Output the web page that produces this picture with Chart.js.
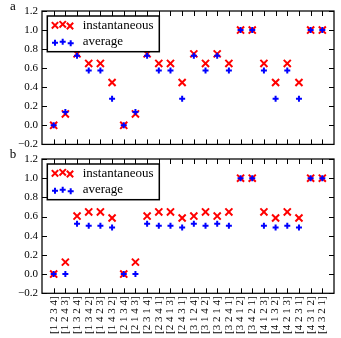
<!DOCTYPE html>
<html>
<head>
<meta charset="utf-8">
<script src="https://cdn.jsdelivr.net/npm/chart.js@4/dist/chart.umd.min.js"></script>
<style>
  body { margin: 0; background: #fff; }
  #wrap { position: relative; width: 341px; height: 338px; }
  canvas { position: absolute; left: 0; }
</style>
</head>
<body>
<div id="wrap">
  <canvas id="ca" width="341" height="155" style="top:0"></canvas>
  <canvas id="cb" width="341" height="192" style="top:146px"></canvas>
</div>
<script>
const categories = [
  '[1 2 3 4]', '[1 2 4 3]', '[1 3 2 4]', '[1 3 4 2]', '[1 4 2 3]', '[1 4 3 2]',
  '[2 1 3 4]', '[2 1 4 3]', '[2 3 1 4]', '[2 3 4 1]', '[2 4 1 3]', '[2 4 3 1]',
  '[3 1 2 4]', '[3 1 4 2]', '[3 2 1 4]', '[3 2 4 1]', '[3 4 1 2]', '[3 4 2 1]',
  '[4 1 2 3]', '[4 1 3 2]', '[4 2 1 3]', '[4 2 3 1]', '[4 3 1 2]', '[4 3 2 1]'
];
const yTicks = [-0.2, 0.0, 0.2, 0.4, 0.6, 0.8, 1.0, 1.2];

// panel a
const instA = [0, 0.12, 0.75, 0.65, 0.65, 0.45, 0, 0.12, 0.75, 0.65, 0.65, 0.45,
               0.75, 0.65, 0.75, 0.65, 1, 1, 0.65, 0.45, 0.65, 0.45, 1, 1];
const avgA = [0, 0.14, 0.73, 0.575, 0.575, 0.28, 0, 0.14, 0.73, 0.575, 0.575, 0.28,
              0.73, 0.575, 0.73, 0.575, 1, 1, 0.575, 0.28, 0.575, 0.28, 1, 1];
// panel b
const instB = [0, 0.125, 0.605, 0.648, 0.648, 0.585, 0, 0.125, 0.605, 0.648, 0.648, 0.585,
               0.605, 0.648, 0.605, 0.648, 1, 1, 0.648, 0.585, 0.648, 0.585, 1, 1];
const avgB = [0, 0, 0.525, 0.505, 0.505, 0.485, 0, 0, 0.525, 0.505, 0.505, 0.485,
              0.525, 0.505, 0.525, 0.505, 1, 1, 0.505, 0.485, 0.505, 0.485, 1, 1];

const serif = "'Liberation Serif', 'DejaVu Serif', serif";
const RED = '#ff0000';
const BLUE = '#0000ff';

function drawX(ctx, x, y, r) {
  const d = r * Math.SQRT1_2;
  ctx.beginPath();
  ctx.moveTo(x - d, y - d); ctx.lineTo(x + d, y + d);
  ctx.moveTo(x - d, y + d); ctx.lineTo(x + d, y - d);
  ctx.stroke();
}
function drawPlus(ctx, x, y, r) {
  ctx.beginPath();
  ctx.moveTo(x - r, y); ctx.lineTo(x + r, y);
  ctx.moveTo(x, y - r); ctx.lineTo(x, y + r);
  ctx.stroke();
}

// frame with inward ticks, boxed legend, panel letter
const framePlugin = {
  id: 'frame',
  afterDraw(chart, args, opts) {
    const ctx = chart.ctx;
    const { left, right, top, bottom } = chart.chartArea;
    const xs = chart.scales.x, ys = chart.scales.y;
    ctx.save();
    ctx.strokeStyle = '#000';
    ctx.lineWidth = 1.25;
    ctx.strokeRect(left, top, right - left, bottom - top);
    ctx.lineWidth = 1;
    ctx.beginPath();
    categories.forEach((c, i) => {
      const px = Math.round(xs.getPixelForValue(i)) + 0.5;
      ctx.moveTo(px, bottom); ctx.lineTo(px, bottom - 5);
      ctx.moveTo(px, top); ctx.lineTo(px, top + 5);
    });
    yTicks.forEach(v => {
      const py = Math.round(ys.getPixelForValue(v)) + 0.5;
      ctx.moveTo(left, py); ctx.lineTo(left + 5, py);
      ctx.moveTo(right, py); ctx.lineTo(right - 5, py);
    });
    ctx.stroke();

    // legend
    const bx = left + 5.3, by = top + 5, bw = 112, bh = 35.7;
    ctx.fillStyle = '#fff';
    ctx.fillRect(bx, by, bw, bh);
    ctx.lineWidth = 1.5;
    ctx.strokeRect(bx, by, bw, bh);
    ctx.lineWidth = 2;
    ctx.strokeStyle = RED;
    [[7.7, 9.3], [15.4, 8.3], [22.7, 10]].forEach(p => drawX(ctx, bx + p[0], by + p[1], 4.5));
    ctx.strokeStyle = BLUE;
    [[7.7, 26.7], [15.4, 25.7], [23.4, 27.3]].forEach(p => drawPlus(ctx, bx + p[0], by + p[1], 3));
    ctx.fillStyle = '#000';
    ctx.font = '13px ' + serif;
    ctx.textBaseline = 'middle';
    ctx.textAlign = 'left';
    ctx.fillText('instantaneous', bx + 35.4, by + 9.7);
    ctx.fillText('average', bx + 35.4, by + 26);

    // panel letter
    ctx.font = '13px ' + serif;
    ctx.textAlign = 'center';
    ctx.fillText(opts.letter, 13, opts.letterY);
    ctx.restore();
  }
};

function makeChart(id, inst, avg, letter, letterY, showX, padTop, padBottom, xHeight) {
  return new Chart(document.getElementById(id), {
    type: 'scatter',
    data: {
      datasets: [
        {
          label: 'instantaneous',
          data: inst.map((v, i) => ({ x: i, y: v })),
          pointStyle: 'crossRot',
          pointRadius: 5,
          pointHoverRadius: 5,
          pointBorderWidth: 2,
          pointBorderColor: RED,
          pointBackgroundColor: RED,
          order: 2
        },
        {
          label: 'average',
          data: avg.map((v, i) => ({ x: i, y: v })),
          pointStyle: 'cross',
          pointRadius: 3,
          pointHoverRadius: 3,
          pointBorderWidth: 2,
          pointBorderColor: BLUE,
          pointBackgroundColor: BLUE,
          order: 1
        }
      ]
    },
    options: {
      responsive: false,
      animation: false,
      events: [],
      layout: { padding: { left: 0, right: 6.7, top: padTop, bottom: padBottom } },
      plugins: {
        legend: { display: false },
        tooltip: { enabled: false },
        frame: { letter: letter, letterY: letterY }
      },
      scales: {
        x: {
          type: 'linear',
          min: -1,
          max: 24,
          afterBuildTicks: s => { s.ticks = categories.map((c, i) => ({ value: i })); },
          afterFit: s => { s.height = xHeight; },
          grid: { display: false, drawTicks: false },
          border: { display: false },
          ticks: {
            display: showX,
            autoSkip: false,
            minRotation: 90,
            maxRotation: 90,
            padding: 3,
            color: '#000',
            font: { family: serif, size: 11 },
            callback: v => categories[v]
          }
        },
        y: {
          min: -0.2,
          max: 1.2,
          afterBuildTicks: s => { s.ticks = yTicks.map(v => ({ value: v })); },
          afterFit: s => { s.width = 42; },
          grid: { display: false, drawTicks: false },
          border: { display: false },
          ticks: {
            padding: 4,
            color: '#000',
            font: { family: serif, size: 11 },
            callback: v => (v < -1e-9 ? '\u2212' : '') + Math.abs(v).toFixed(1)
          }
        }
      }
    },
    plugins: [framePlugin]
  });
}

makeChart('ca', instA, avgA, 'a', 7, false, 11, 10, 0);
makeChart('cb', instB, avgB, 'b', 8.5, true, 13, 0, 44.7);
</script>
</body>
</html>
